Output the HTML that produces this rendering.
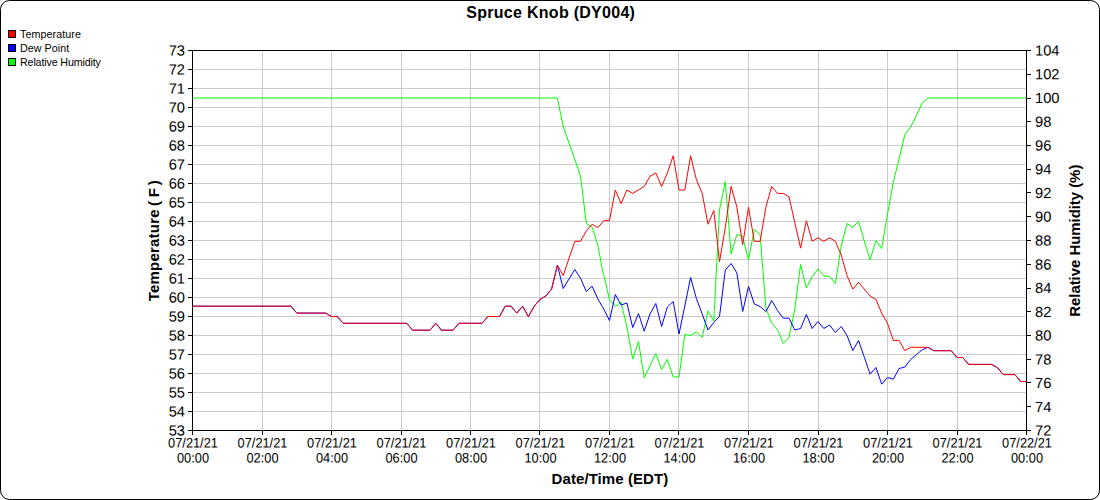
<!DOCTYPE html>
<html><head><meta charset="utf-8"><title>Spruce Knob (DY004)</title>
<style>
html,body{margin:0;padding:0;background:#fff;}
body{width:1100px;height:500px;overflow:hidden;font-family:"Liberation Sans",sans-serif;}
#frame{position:absolute;left:0;top:0;width:1098px;height:498px;border:1px solid #000;border-radius:9.5px;background:#fff;}
svg{position:absolute;left:0;top:0;font-family:"Liberation Sans",sans-serif;}
</style></head><body>
<div id="frame"></div>
<svg width="1100" height="500" viewBox="0 0 1100 500">
<g stroke="#cccccc" stroke-width="1" shape-rendering="crispEdges"><line x1="262.5" y1="50.5" x2="262.5" y2="430.5"/><line x1="331.5" y1="50.5" x2="331.5" y2="430.5"/><line x1="401.5" y1="50.5" x2="401.5" y2="430.5"/><line x1="470.5" y1="50.5" x2="470.5" y2="430.5"/><line x1="539.5" y1="50.5" x2="539.5" y2="430.5"/><line x1="609.5" y1="50.5" x2="609.5" y2="430.5"/><line x1="678.5" y1="50.5" x2="678.5" y2="430.5"/><line x1="748.5" y1="50.5" x2="748.5" y2="430.5"/><line x1="818.5" y1="50.5" x2="818.5" y2="430.5"/><line x1="887.5" y1="50.5" x2="887.5" y2="430.5"/><line x1="957.5" y1="50.5" x2="957.5" y2="430.5"/><line x1="192.5" y1="411.5" x2="1026.5" y2="411.5"/><line x1="192.5" y1="392.5" x2="1026.5" y2="392.5"/><line x1="192.5" y1="373.5" x2="1026.5" y2="373.5"/><line x1="192.5" y1="354.5" x2="1026.5" y2="354.5"/><line x1="192.5" y1="335.5" x2="1026.5" y2="335.5"/><line x1="192.5" y1="316.5" x2="1026.5" y2="316.5"/><line x1="192.5" y1="297.5" x2="1026.5" y2="297.5"/><line x1="192.5" y1="278.5" x2="1026.5" y2="278.5"/><line x1="192.5" y1="259.5" x2="1026.5" y2="259.5"/><line x1="192.5" y1="240.5" x2="1026.5" y2="240.5"/><line x1="192.5" y1="221.5" x2="1026.5" y2="221.5"/><line x1="192.5" y1="202.5" x2="1026.5" y2="202.5"/><line x1="192.5" y1="183.5" x2="1026.5" y2="183.5"/><line x1="192.5" y1="164.5" x2="1026.5" y2="164.5"/><line x1="192.5" y1="145.5" x2="1026.5" y2="145.5"/><line x1="192.5" y1="126.5" x2="1026.5" y2="126.5"/><line x1="192.5" y1="107.5" x2="1026.5" y2="107.5"/><line x1="192.5" y1="88.5" x2="1026.5" y2="88.5"/><line x1="192.5" y1="69.5" x2="1026.5" y2="69.5"/></g>
<polyline points="192.5,98.0 557.4,98.0 563.2,126.5 569.0,143.0 574.8,159.4 580.5,176.0 586.3,223.5 592.1,227.0 597.9,245.5 602.3,269.0 603.7,274.6 609.5,299.5 615.3,306.5 621.1,302.0 626.9,327.0 632.7,359.0 638.5,341.5 644.2,378.0 650.0,365.8 655.8,353.5 661.6,369.5 667.4,359.5 673.2,377.0 679.0,377.0 684.8,334.5 690.6,335.5 696.4,331.8 702.2,337.5 708.0,310.8 713.8,321.0 719.5,210.0 725.3,181.5 731.1,254.0 736.9,234.5 742.7,236.5 748.5,260.0 754.3,229.5 760.1,234.5 765.9,308.0 771.7,323.3 777.5,329.5 783.2,343.5 789.0,337.5 794.8,309.0 800.6,264.5 806.4,288.0 812.2,276.5 818.0,269.0 823.8,276.2 829.6,276.2 835.4,283.5 841.2,246.0 847.0,223.5 852.8,227.3 858.5,221.4 864.3,241.0 870.1,260.0 875.9,240.5 881.7,248.5 887.5,214.0 893.3,182.0 899.1,159.0 904.9,134.5 910.7,127.0 916.5,115.5 922.2,103.0 928.0,98.0 1026.5,98.0" fill="none" stroke="#00ff00" stroke-width="1" stroke-linejoin="round"/>
<polyline points="192.5,306.2 291.0,306.2 296.8,313.1 325.7,313.1 331.5,316.5 337.3,316.5 343.1,323.3 406.8,323.3 412.6,330.2 430.0,330.2 435.8,323.3 441.5,330.2 453.1,330.2 458.9,323.3 482.1,323.3 487.9,316.5 499.5,316.5 505.2,306.2 511.0,306.2 516.8,313.1 522.6,306.2 528.4,316.5 534.2,306.2 540.0,299.4 545.8,296.0 551.6,289.1 557.4,265.2 563.2,288.5 574.8,269.5 580.5,278.2 586.3,291.5 592.1,286.2 597.9,299.0 603.7,309.0 609.5,320.5 615.3,294.5 621.1,305.0 626.9,303.0 632.7,327.5 638.5,313.5 644.2,331.2 650.0,314.0 655.8,303.5 661.6,326.5 667.4,307.0 673.2,301.5 679.0,334.0 684.8,306.0 690.6,277.5 696.4,298.5 702.2,314.0 708.0,330.0 713.8,322.5 719.5,316.5 725.3,270.0 731.1,263.5 736.9,273.0 742.7,311.5 748.5,286.5 754.3,304.0 760.1,306.5 765.9,311.5 771.7,300.5 777.5,310.5 783.2,318.2 789.0,318.2 794.8,330.0 800.6,328.5 806.4,314.5 812.2,328.5 818.0,321.5 823.8,328.5 829.6,325.0 835.4,332.5 841.2,326.5 847.0,335.5 852.8,350.5 858.5,340.5 864.3,357.2 870.1,374.2 875.9,367.5 881.7,384.2 887.5,377.5 893.3,379.2 899.1,368.5 904.9,367.0 910.7,359.5 916.5,354.5 922.2,349.8 928.0,347.3 933.8,350.7 951.2,350.7 957.0,357.5 962.8,357.5 968.6,364.4 991.8,364.4 997.5,367.8 1003.3,374.6 1014.9,374.6 1020.7,381.5 1026.5,381.5" fill="none" stroke="#0000ff" stroke-width="1" stroke-linejoin="round"/>
<polyline points="192.5,306.2 291.0,306.2 296.8,313.1 325.7,313.1 331.5,316.5 337.3,316.5 343.1,323.3 406.8,323.3 412.6,330.2 430.0,330.2 435.8,323.3 441.5,330.2 453.1,330.2 458.9,323.3 482.1,323.3 487.9,316.5 499.5,316.5 505.2,306.2 511.0,306.2 516.8,313.1 522.6,306.2 528.4,316.5 534.2,306.2 540.0,299.4 545.8,296.0 551.6,289.1 557.4,265.2 563.2,275.5 574.8,241.3 580.5,241.3 586.3,231.0 592.1,224.2 597.9,227.6 603.7,220.7 609.5,220.7 615.3,190.0 621.1,203.6 626.9,190.0 632.7,193.4 644.2,186.5 650.0,176.3 655.8,172.9 661.6,186.5 667.4,172.9 673.2,155.8 679.0,190.0 684.8,190.0 690.6,155.8 696.4,179.7 702.2,193.4 708.0,224.2 713.8,210.5 719.5,261.8 725.3,227.6 731.1,186.5 736.9,207.1 742.7,244.7 748.5,207.1 754.3,241.3 760.1,241.3 765.9,207.1 771.7,186.5 777.5,193.4 783.2,193.4 789.0,196.8 800.6,248.1 806.4,220.7 812.2,241.3 818.0,237.8 823.8,241.3 829.6,237.8 835.4,241.3 841.2,254.9 847.0,275.5 852.8,289.1 858.5,282.3 870.1,296.0 875.9,299.4 881.7,313.1 887.5,323.3 893.3,340.4 899.1,340.4 904.9,350.7 910.7,347.3 928.0,347.3 933.8,350.7 951.2,350.7 957.0,357.5 962.8,357.5 968.6,364.4 991.8,364.4 997.5,367.8 1003.3,374.6 1014.9,374.6 1020.7,381.5 1026.5,381.5" fill="none" stroke="#ff0000" stroke-width="1" stroke-linejoin="round"/>
<g stroke="#000" stroke-width="1" shape-rendering="crispEdges"><line x1="192.5" y1="50.5" x2="1026.5" y2="50.5"/><line x1="192.5" y1="430.5" x2="1026.5" y2="430.5"/><line x1="192.5" y1="50.0" x2="192.5" y2="431.0"/><line x1="1026.5" y1="50.0" x2="1026.5" y2="431.0"/><line x1="192.5" y1="430.5" x2="192.5" y2="435.0"/><line x1="262.5" y1="430.5" x2="262.5" y2="435.0"/><line x1="331.5" y1="430.5" x2="331.5" y2="435.0"/><line x1="401.5" y1="430.5" x2="401.5" y2="435.0"/><line x1="470.5" y1="430.5" x2="470.5" y2="435.0"/><line x1="539.5" y1="430.5" x2="539.5" y2="435.0"/><line x1="609.5" y1="430.5" x2="609.5" y2="435.0"/><line x1="678.5" y1="430.5" x2="678.5" y2="435.0"/><line x1="748.5" y1="430.5" x2="748.5" y2="435.0"/><line x1="818.5" y1="430.5" x2="818.5" y2="435.0"/><line x1="887.5" y1="430.5" x2="887.5" y2="435.0"/><line x1="957.5" y1="430.5" x2="957.5" y2="435.0"/><line x1="1026.5" y1="430.5" x2="1026.5" y2="435.0"/><line x1="188.0" y1="430.5" x2="192.5" y2="430.5"/><line x1="188.0" y1="411.5" x2="192.5" y2="411.5"/><line x1="188.0" y1="392.5" x2="192.5" y2="392.5"/><line x1="188.0" y1="373.5" x2="192.5" y2="373.5"/><line x1="188.0" y1="354.5" x2="192.5" y2="354.5"/><line x1="188.0" y1="335.5" x2="192.5" y2="335.5"/><line x1="188.0" y1="316.5" x2="192.5" y2="316.5"/><line x1="188.0" y1="297.5" x2="192.5" y2="297.5"/><line x1="188.0" y1="278.5" x2="192.5" y2="278.5"/><line x1="188.0" y1="259.5" x2="192.5" y2="259.5"/><line x1="188.0" y1="240.5" x2="192.5" y2="240.5"/><line x1="188.0" y1="221.5" x2="192.5" y2="221.5"/><line x1="188.0" y1="202.5" x2="192.5" y2="202.5"/><line x1="188.0" y1="183.5" x2="192.5" y2="183.5"/><line x1="188.0" y1="164.5" x2="192.5" y2="164.5"/><line x1="188.0" y1="145.5" x2="192.5" y2="145.5"/><line x1="188.0" y1="126.5" x2="192.5" y2="126.5"/><line x1="188.0" y1="107.5" x2="192.5" y2="107.5"/><line x1="188.0" y1="88.5" x2="192.5" y2="88.5"/><line x1="188.0" y1="69.5" x2="192.5" y2="69.5"/><line x1="188.0" y1="50.5" x2="192.5" y2="50.5"/><line x1="1026.5" y1="430.5" x2="1031.0" y2="430.5"/><line x1="1026.5" y1="406.5" x2="1031.0" y2="406.5"/><line x1="1026.5" y1="382.5" x2="1031.0" y2="382.5"/><line x1="1026.5" y1="359.5" x2="1031.0" y2="359.5"/><line x1="1026.5" y1="335.5" x2="1031.0" y2="335.5"/><line x1="1026.5" y1="311.5" x2="1031.0" y2="311.5"/><line x1="1026.5" y1="288.5" x2="1031.0" y2="288.5"/><line x1="1026.5" y1="264.5" x2="1031.0" y2="264.5"/><line x1="1026.5" y1="240.5" x2="1031.0" y2="240.5"/><line x1="1026.5" y1="216.5" x2="1031.0" y2="216.5"/><line x1="1026.5" y1="192.5" x2="1031.0" y2="192.5"/><line x1="1026.5" y1="169.5" x2="1031.0" y2="169.5"/><line x1="1026.5" y1="145.5" x2="1031.0" y2="145.5"/><line x1="1026.5" y1="121.5" x2="1031.0" y2="121.5"/><line x1="1026.5" y1="98.5" x2="1031.0" y2="98.5"/><line x1="1026.5" y1="74.5" x2="1031.0" y2="74.5"/><line x1="1026.5" y1="50.5" x2="1031.0" y2="50.5"/></g>
<g fill="#000" font-family="Liberation Sans, sans-serif"><text transform="translate(185,435.6) rotate(0.03)" text-anchor="end" font-size="14.7">53</text><text transform="translate(185,416.6) rotate(0.03)" text-anchor="end" font-size="14.7">54</text><text transform="translate(185,397.6) rotate(0.03)" text-anchor="end" font-size="14.7">55</text><text transform="translate(185,378.6) rotate(0.03)" text-anchor="end" font-size="14.7">56</text><text transform="translate(185,359.6) rotate(0.03)" text-anchor="end" font-size="14.7">57</text><text transform="translate(185,340.6) rotate(0.03)" text-anchor="end" font-size="14.7">58</text><text transform="translate(185,321.6) rotate(0.03)" text-anchor="end" font-size="14.7">59</text><text transform="translate(185,302.6) rotate(0.03)" text-anchor="end" font-size="14.7">60</text><text transform="translate(185,283.6) rotate(0.03)" text-anchor="end" font-size="14.7">61</text><text transform="translate(185,264.6) rotate(0.03)" text-anchor="end" font-size="14.7">62</text><text transform="translate(185,245.6) rotate(0.03)" text-anchor="end" font-size="14.7">63</text><text transform="translate(185,226.6) rotate(0.03)" text-anchor="end" font-size="14.7">64</text><text transform="translate(185,207.6) rotate(0.03)" text-anchor="end" font-size="14.7">65</text><text transform="translate(185,188.6) rotate(0.03)" text-anchor="end" font-size="14.7">66</text><text transform="translate(185,169.6) rotate(0.03)" text-anchor="end" font-size="14.7">67</text><text transform="translate(185,150.6) rotate(0.03)" text-anchor="end" font-size="14.7">68</text><text transform="translate(185,131.6) rotate(0.03)" text-anchor="end" font-size="14.7">69</text><text transform="translate(185,112.6) rotate(0.03)" text-anchor="end" font-size="14.7">70</text><text transform="translate(185,93.6) rotate(0.03)" text-anchor="end" font-size="14.7">71</text><text transform="translate(185,74.6) rotate(0.03)" text-anchor="end" font-size="14.7">72</text><text transform="translate(185,55.6) rotate(0.03)" text-anchor="end" font-size="14.7">73</text><text transform="translate(1035,435.6) rotate(0.03)" text-anchor="start" font-size="14.7">72</text><text transform="translate(1035,411.9) rotate(0.03)" text-anchor="start" font-size="14.7">74</text><text transform="translate(1035,388.1) rotate(0.03)" text-anchor="start" font-size="14.7">76</text><text transform="translate(1035,364.4) rotate(0.03)" text-anchor="start" font-size="14.7">78</text><text transform="translate(1035,340.6) rotate(0.03)" text-anchor="start" font-size="14.7">80</text><text transform="translate(1035,316.9) rotate(0.03)" text-anchor="start" font-size="14.7">82</text><text transform="translate(1035,293.1) rotate(0.03)" text-anchor="start" font-size="14.7">84</text><text transform="translate(1035,269.4) rotate(0.03)" text-anchor="start" font-size="14.7">86</text><text transform="translate(1035,245.6) rotate(0.03)" text-anchor="start" font-size="14.7">88</text><text transform="translate(1035,221.8) rotate(0.03)" text-anchor="start" font-size="14.7">90</text><text transform="translate(1035,198.1) rotate(0.03)" text-anchor="start" font-size="14.7">92</text><text transform="translate(1035,174.3) rotate(0.03)" text-anchor="start" font-size="14.7">94</text><text transform="translate(1035,150.6) rotate(0.03)" text-anchor="start" font-size="14.7">96</text><text transform="translate(1035,126.8) rotate(0.03)" text-anchor="start" font-size="14.7">98</text><text transform="translate(1035,103.1) rotate(0.03)" text-anchor="start" font-size="14.7">100</text><text transform="translate(1035,79.3) rotate(0.03)" text-anchor="start" font-size="14.7">102</text><text transform="translate(1035,55.6) rotate(0.03)" text-anchor="start" font-size="14.7">104</text><text transform="translate(193.0,447.6) rotate(0.03) scale(1,1.07)" text-anchor="middle" font-size="12.8">07/21/21</text><text transform="translate(193.0,462.6) rotate(0.03) scale(1,1.07)" text-anchor="middle" font-size="12.8">00:00</text><text transform="translate(262.5,447.6) rotate(0.03) scale(1,1.07)" text-anchor="middle" font-size="12.8">07/21/21</text><text transform="translate(262.5,462.6) rotate(0.03) scale(1,1.07)" text-anchor="middle" font-size="12.8">02:00</text><text transform="translate(332.0,447.6) rotate(0.03) scale(1,1.07)" text-anchor="middle" font-size="12.8">07/21/21</text><text transform="translate(332.0,462.6) rotate(0.03) scale(1,1.07)" text-anchor="middle" font-size="12.8">04:00</text><text transform="translate(401.5,447.6) rotate(0.03) scale(1,1.07)" text-anchor="middle" font-size="12.8">07/21/21</text><text transform="translate(401.5,462.6) rotate(0.03) scale(1,1.07)" text-anchor="middle" font-size="12.8">06:00</text><text transform="translate(471.0,447.6) rotate(0.03) scale(1,1.07)" text-anchor="middle" font-size="12.8">07/21/21</text><text transform="translate(471.0,462.6) rotate(0.03) scale(1,1.07)" text-anchor="middle" font-size="12.8">08:00</text><text transform="translate(540.5,447.6) rotate(0.03) scale(1,1.07)" text-anchor="middle" font-size="12.8">07/21/21</text><text transform="translate(540.5,462.6) rotate(0.03) scale(1,1.07)" text-anchor="middle" font-size="12.8">10:00</text><text transform="translate(610.0,447.6) rotate(0.03) scale(1,1.07)" text-anchor="middle" font-size="12.8">07/21/21</text><text transform="translate(610.0,462.6) rotate(0.03) scale(1,1.07)" text-anchor="middle" font-size="12.8">12:00</text><text transform="translate(679.5,447.6) rotate(0.03) scale(1,1.07)" text-anchor="middle" font-size="12.8">07/21/21</text><text transform="translate(679.5,462.6) rotate(0.03) scale(1,1.07)" text-anchor="middle" font-size="12.8">14:00</text><text transform="translate(749.0,447.6) rotate(0.03) scale(1,1.07)" text-anchor="middle" font-size="12.8">07/21/21</text><text transform="translate(749.0,462.6) rotate(0.03) scale(1,1.07)" text-anchor="middle" font-size="12.8">16:00</text><text transform="translate(818.5,447.6) rotate(0.03) scale(1,1.07)" text-anchor="middle" font-size="12.8">07/21/21</text><text transform="translate(818.5,462.6) rotate(0.03) scale(1,1.07)" text-anchor="middle" font-size="12.8">18:00</text><text transform="translate(888.0,447.6) rotate(0.03) scale(1,1.07)" text-anchor="middle" font-size="12.8">07/21/21</text><text transform="translate(888.0,462.6) rotate(0.03) scale(1,1.07)" text-anchor="middle" font-size="12.8">20:00</text><text transform="translate(957.5,447.6) rotate(0.03) scale(1,1.07)" text-anchor="middle" font-size="12.8">07/21/21</text><text transform="translate(957.5,462.6) rotate(0.03) scale(1,1.07)" text-anchor="middle" font-size="12.8">22:00</text><text transform="translate(1027.0,447.6) rotate(0.03) scale(1,1.07)" text-anchor="middle" font-size="12.8">07/22/21</text><text transform="translate(1027.0,462.6) rotate(0.03) scale(1,1.07)" text-anchor="middle" font-size="12.8">00:00</text><text x="550.6" y="18" text-anchor="middle" font-size="16" font-weight="bold" textLength="168.6" lengthAdjust="spacing">Spruce Knob (DY004)</text><text x="609.9" y="483.5" textLength="116.6" lengthAdjust="spacing" text-anchor="middle" font-size="15" font-weight="bold">Date/Time (EDT)</text><text transform="translate(158.5,240.7) rotate(-90)" text-anchor="middle" font-size="15" font-weight="bold" letter-spacing="0.2">Temperature <tspan dx="-1.2">( </tspan><tspan dx="-0.6">F</tspan><tspan dx="2.4">)</tspan></text><text transform="translate(1080,240.7) rotate(-90)" text-anchor="middle" font-size="15" font-weight="bold" textLength="152.2" lengthAdjust="spacing">Relative Humidity (%)</text><rect x="8.5" y="30.5" width="7" height="7" fill="#ff0000" stroke="#000" stroke-width="1" shape-rendering="crispEdges"/><text x="20" y="37.7" font-size="10.7" textLength="60.9" lengthAdjust="spacing">Temperature</text><rect x="8.5" y="44.5" width="7" height="7" fill="#0000ff" stroke="#000" stroke-width="1" shape-rendering="crispEdges"/><text x="20" y="51.7" font-size="10.7" textLength="49.2" lengthAdjust="spacing">Dew Point</text><rect x="8.5" y="58.5" width="7" height="7" fill="#00ff00" stroke="#000" stroke-width="1" shape-rendering="crispEdges"/><text x="20" y="65.7" font-size="10.7" textLength="80.9" lengthAdjust="spacing">Relative Humidity</text></g>
</svg>
</body></html>
